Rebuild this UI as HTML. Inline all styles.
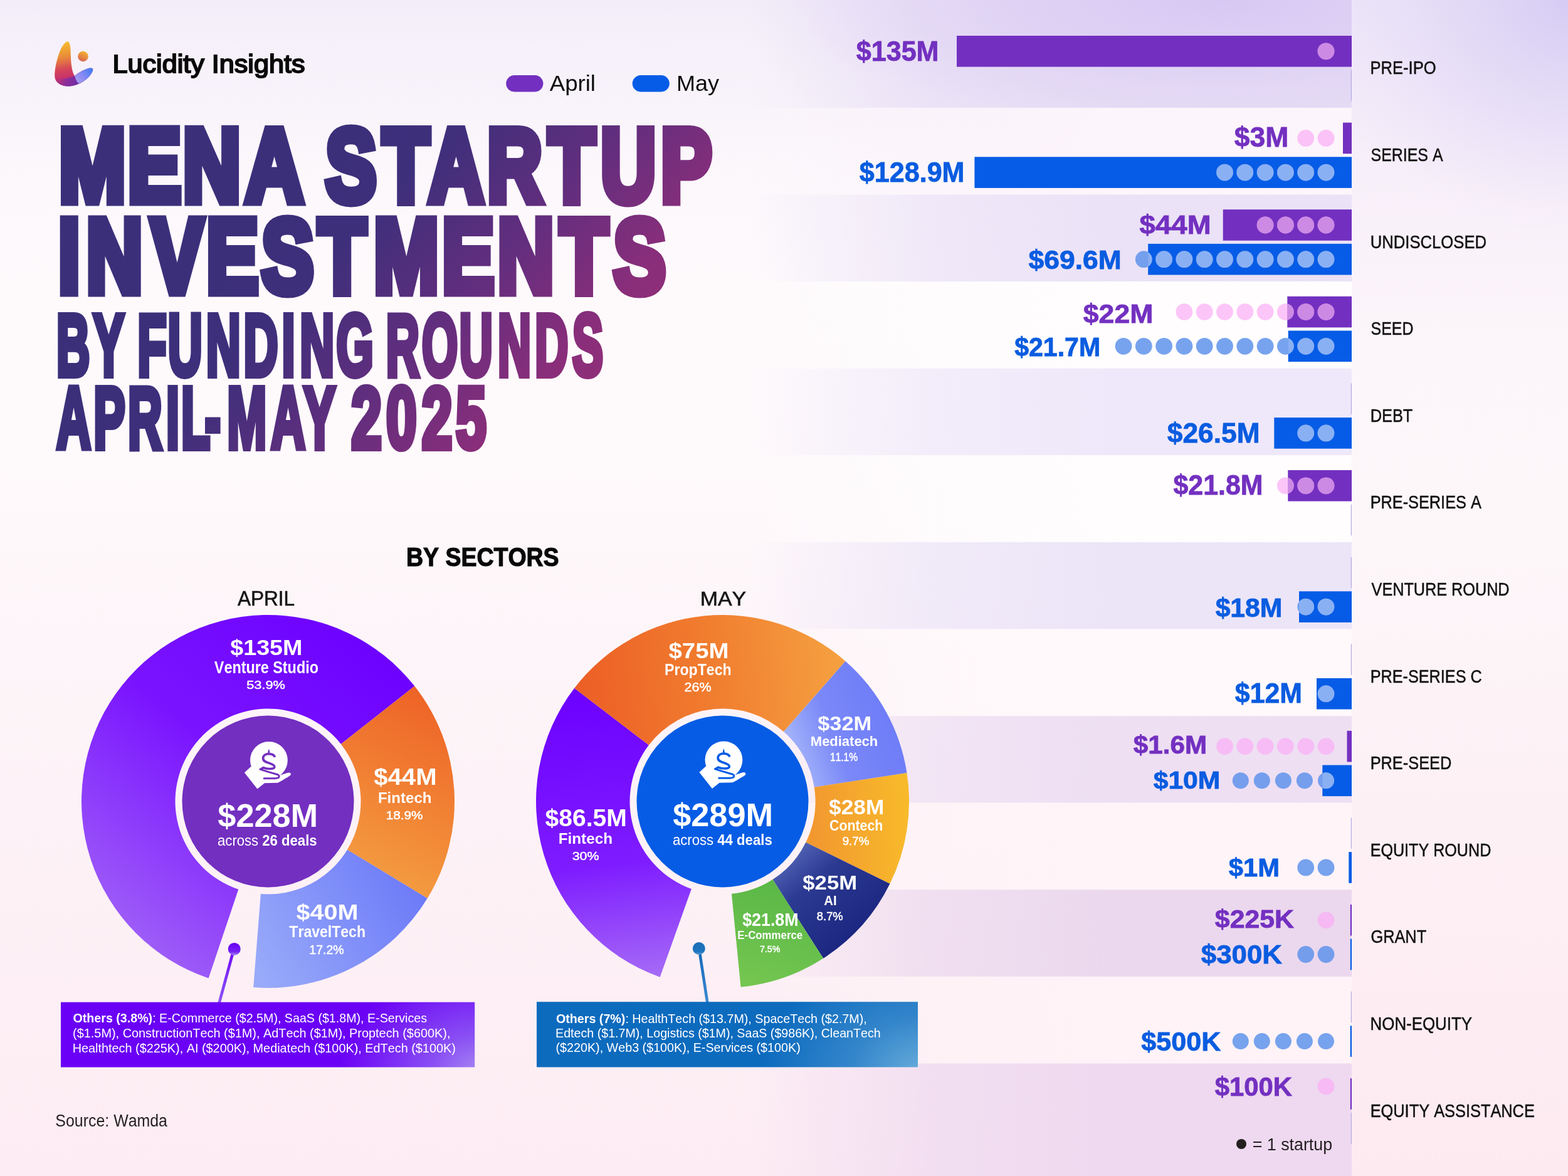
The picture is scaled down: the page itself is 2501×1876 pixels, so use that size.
<!DOCTYPE html><html><head><meta charset="utf-8"><title>MENA Startup Investments by Funding Rounds April-May 2025</title>
<style>html,body{margin:0;padding:0;background:#FBF4F9;}body{width:2501px;height:1876px;overflow:hidden;font-family:"Liberation Sans",Arial,sans-serif;}svg{display:block}</style></head><body><svg width="2501" height="1876" viewBox="0 0 2501 1876" font-family="Liberation Sans, Arial, sans-serif" style="font-kerning:none"><defs><linearGradient id="bg" gradientUnits="userSpaceOnUse" x1="0" y1="0" x2="0" y2="1876"><stop offset="0" stop-color="#F2EDF9"/><stop offset="0.06" stop-color="#F7F2FA"/><stop offset="0.14" stop-color="#FBF7FB"/><stop offset="0.25" stop-color="#FEFAFC"/><stop offset="0.4" stop-color="#FEF9FB"/><stop offset="0.55" stop-color="#FDF5F9"/><stop offset="0.75" stop-color="#FDF1F6"/><stop offset="1" stop-color="#FDECF3"/></linearGradient><radialGradient id="haze" gradientUnits="userSpaceOnUse" cx="1950" cy="0" r="900" gradientTransform="translate(1950 0) scale(0.85 0.4) translate(-1950 0)"><stop offset="0" stop-color="#D9C8F4" stop-opacity="0.85"/><stop offset="1" stop-color="#E9DDF6" stop-opacity="0"/></radialGradient><linearGradient id="rcol" gradientUnits="userSpaceOnUse" x1="0" y1="0" x2="0" y2="1876"><stop offset="0" stop-color="#EDE6F8"/><stop offset="0.07" stop-color="#F3EBF9"/><stop offset="0.16" stop-color="#F8F0F9"/><stop offset="0.3" stop-color="#FCF6FA"/><stop offset="0.45" stop-color="#FDF7FA"/><stop offset="0.7" stop-color="#FDF0F5"/><stop offset="1" stop-color="#FDEAF1"/></linearGradient><radialGradient id="rhaze" gradientUnits="userSpaceOnUse" cx="2501" cy="0" r="420" gradientTransform="translate(2501 0) scale(1 0.9) translate(-2501 0)"><stop offset="0" stop-color="#D6CCF4" stop-opacity="1"/><stop offset="0.5" stop-color="#DDD4F5" stop-opacity="0.55"/><stop offset="1" stop-color="#E6DEF7" stop-opacity="0"/></radialGradient><linearGradient id="band0" gradientUnits="userSpaceOnUse" x1="1195" y1="0" x2="2156" y2="0"><stop offset="0" stop-color="#E7DEF5" stop-opacity="0"/><stop offset="0.3" stop-color="#E7DEF5" stop-opacity="0.72"/><stop offset="0.6" stop-color="#E7DEF5" stop-opacity="1"/><stop offset="1" stop-color="#E7DEF5" stop-opacity="1"/></linearGradient><linearGradient id="band1" gradientUnits="userSpaceOnUse" x1="1195" y1="0" x2="2156" y2="0"><stop offset="0" stop-color="#FCF5FB" stop-opacity="0"/><stop offset="0.3" stop-color="#FCF5FB" stop-opacity="0.72"/><stop offset="0.6" stop-color="#FCF5FB" stop-opacity="1"/><stop offset="1" stop-color="#FCF5FB" stop-opacity="1"/></linearGradient><linearGradient id="band2" gradientUnits="userSpaceOnUse" x1="1195" y1="0" x2="2156" y2="0"><stop offset="0" stop-color="#EBE2F7" stop-opacity="0"/><stop offset="0.3" stop-color="#EBE2F7" stop-opacity="0.72"/><stop offset="0.6" stop-color="#EBE2F7" stop-opacity="1"/><stop offset="1" stop-color="#EBE2F7" stop-opacity="1"/></linearGradient><linearGradient id="band3" gradientUnits="userSpaceOnUse" x1="1195" y1="0" x2="2156" y2="0"><stop offset="0" stop-color="#FFFDFE" stop-opacity="0"/><stop offset="0.3" stop-color="#FFFDFE" stop-opacity="0.72"/><stop offset="0.6" stop-color="#FFFDFE" stop-opacity="1"/><stop offset="1" stop-color="#FFFDFE" stop-opacity="1"/></linearGradient><linearGradient id="band4" gradientUnits="userSpaceOnUse" x1="1195" y1="0" x2="2156" y2="0"><stop offset="0" stop-color="#EEE8FA" stop-opacity="0"/><stop offset="0.3" stop-color="#EEE8FA" stop-opacity="0.72"/><stop offset="0.6" stop-color="#EEE8FA" stop-opacity="1"/><stop offset="1" stop-color="#EEE8FA" stop-opacity="1"/></linearGradient><linearGradient id="band5" gradientUnits="userSpaceOnUse" x1="1195" y1="0" x2="2156" y2="0"><stop offset="0" stop-color="#FFFDFE" stop-opacity="0"/><stop offset="0.3" stop-color="#FFFDFE" stop-opacity="0.72"/><stop offset="0.6" stop-color="#FFFDFE" stop-opacity="1"/><stop offset="1" stop-color="#FFFDFE" stop-opacity="1"/></linearGradient><linearGradient id="band6" gradientUnits="userSpaceOnUse" x1="1195" y1="0" x2="2156" y2="0"><stop offset="0" stop-color="#ECE5F8" stop-opacity="0"/><stop offset="0.3" stop-color="#ECE5F8" stop-opacity="0.72"/><stop offset="0.6" stop-color="#ECE5F8" stop-opacity="1"/><stop offset="1" stop-color="#ECE5F8" stop-opacity="1"/></linearGradient><linearGradient id="band7" gradientUnits="userSpaceOnUse" x1="1195" y1="0" x2="2156" y2="0"><stop offset="0" stop-color="#FFF9FB" stop-opacity="0"/><stop offset="0.3" stop-color="#FFF9FB" stop-opacity="0.72"/><stop offset="0.6" stop-color="#FFF9FB" stop-opacity="1"/><stop offset="1" stop-color="#FFF9FB" stop-opacity="1"/></linearGradient><linearGradient id="band8" gradientUnits="userSpaceOnUse" x1="1195" y1="0" x2="2156" y2="0"><stop offset="0" stop-color="#EEDFF3" stop-opacity="0"/><stop offset="0.3" stop-color="#EEDFF3" stop-opacity="0.72"/><stop offset="0.6" stop-color="#EEDFF3" stop-opacity="1"/><stop offset="1" stop-color="#EEDFF3" stop-opacity="1"/></linearGradient><linearGradient id="band9" gradientUnits="userSpaceOnUse" x1="1195" y1="0" x2="2156" y2="0"><stop offset="0" stop-color="#FFF4F8" stop-opacity="0"/><stop offset="0.3" stop-color="#FFF4F8" stop-opacity="0.72"/><stop offset="0.6" stop-color="#FFF4F8" stop-opacity="1"/><stop offset="1" stop-color="#FFF4F8" stop-opacity="1"/></linearGradient><linearGradient id="band10" gradientUnits="userSpaceOnUse" x1="1195" y1="0" x2="2156" y2="0"><stop offset="0" stop-color="#EBD8EE" stop-opacity="0"/><stop offset="0.3" stop-color="#EBD8EE" stop-opacity="0.72"/><stop offset="0.6" stop-color="#EBD8EE" stop-opacity="1"/><stop offset="1" stop-color="#EBD8EE" stop-opacity="1"/></linearGradient><linearGradient id="band11" gradientUnits="userSpaceOnUse" x1="1195" y1="0" x2="2156" y2="0"><stop offset="0" stop-color="#FFF3F7" stop-opacity="0"/><stop offset="0.3" stop-color="#FFF3F7" stop-opacity="0.72"/><stop offset="0.6" stop-color="#FFF3F7" stop-opacity="1"/><stop offset="1" stop-color="#FFF3F7" stop-opacity="1"/></linearGradient><linearGradient id="band12" gradientUnits="userSpaceOnUse" x1="1195" y1="0" x2="2156" y2="0"><stop offset="0" stop-color="#EED9F0" stop-opacity="0"/><stop offset="0.3" stop-color="#EED9F0" stop-opacity="0.72"/><stop offset="0.6" stop-color="#EED9F0" stop-opacity="1"/><stop offset="1" stop-color="#EED9F0" stop-opacity="1"/></linearGradient><radialGradient id="b0haze" gradientUnits="userSpaceOnUse" cx="1950" cy="0" r="700" gradientTransform="translate(1950 0) scale(1 0.3) translate(-1950 0)"><stop offset="0" stop-color="#D3C3F3" stop-opacity="0.8"/><stop offset="1" stop-color="#D4C2F2" stop-opacity="0"/></radialGradient><clipPath id="clip0_0"><rect x="1526.0" y="57.0" width="630.0" height="49.6"/></clipPath><clipPath id="clip1_0"><rect x="2142.0" y="195.6" width="14.0" height="49.6"/></clipPath><clipPath id="clip1_1"><rect x="1554.4" y="250.3" width="601.6" height="49.6"/></clipPath><clipPath id="clip2_0"><rect x="1950.7" y="334.2" width="205.3" height="49.6"/></clipPath><clipPath id="clip2_1"><rect x="1831.2" y="388.9" width="324.8" height="49.6"/></clipPath><clipPath id="clip3_0"><rect x="2053.3" y="472.8" width="102.7" height="49.6"/></clipPath><clipPath id="clip3_1"><rect x="2054.7" y="527.5" width="101.3" height="49.6"/></clipPath><clipPath id="clip4_1"><rect x="2032.3" y="666.1" width="123.7" height="49.6"/></clipPath><clipPath id="clip5_0"><rect x="2054.3" y="750.0" width="101.7" height="49.6"/></clipPath><clipPath id="clip6_1"><rect x="2072.0" y="943.3" width="84.0" height="49.6"/></clipPath><clipPath id="clip7_1"><rect x="2100.0" y="1081.9" width="56.0" height="49.6"/></clipPath><clipPath id="clip8_0"><rect x="2148.5" y="1165.8" width="7.5" height="49.6"/></clipPath><clipPath id="clip8_1"><rect x="2109.3" y="1220.5" width="46.7" height="49.6"/></clipPath><clipPath id="clip9_1"><rect x="2151.3" y="1359.1" width="4.7" height="49.6"/></clipPath><clipPath id="clip10_0"><rect x="2153.8" y="1443.0" width="2.2" height="49.6"/></clipPath><clipPath id="clip10_1"><rect x="2153.8" y="1497.7" width="2.2" height="49.6"/></clipPath><clipPath id="clip11_1"><rect x="2153.7" y="1636.3" width="2.3" height="49.6"/></clipPath><clipPath id="clip12_0"><rect x="2153.8" y="1720.2" width="2.2" height="49.6"/></clipPath><linearGradient id="lgA" gradientUnits="userSpaceOnUse" x1="100" y1="66" x2="112" y2="137"><stop offset="0" stop-color="#F7C02C"/><stop offset="0.35" stop-color="#E98A3A"/><stop offset="0.62" stop-color="#D4445A"/><stop offset="0.8" stop-color="#C8336A"/><stop offset="1" stop-color="#7C2C9C"/></linearGradient><linearGradient id="lgB" gradientUnits="userSpaceOnUse" x1="148" y1="110" x2="118" y2="137"><stop offset="0" stop-color="#3F7BF6"/><stop offset="0.5" stop-color="#8A8AF2"/><stop offset="1" stop-color="#B4A8EE"/></linearGradient><linearGradient id="lgC" gradientUnits="userSpaceOnUse" x1="136" y1="82" x2="128" y2="98"><stop offset="0" stop-color="#F7B530"/><stop offset="1" stop-color="#D66052"/></linearGradient><linearGradient id="lgD" gradientUnits="userSpaceOnUse" x1="88" y1="124" x2="126" y2="136"><stop offset="0" stop-color="#C8336A" stop-opacity="0.2"/><stop offset="0.45" stop-color="#8E2E9C"/><stop offset="1" stop-color="#6C2CA2"/></linearGradient><linearGradient id="tgrad" gradientUnits="userSpaceOnUse" x1="560" y1="230" x2="1060" y2="700"><stop offset="0" stop-color="#3C2F7A"/><stop offset="0.15" stop-color="#3E2F7B"/><stop offset="0.45" stop-color="#642E7E"/><stop offset="0.7" stop-color="#8A2E7A"/><stop offset="1" stop-color="#9A2E77"/></linearGradient><linearGradient id="tg1" gradientUnits="userSpaceOnUse" x1="560" y1="230" x2="1060" y2="700" gradientTransform="scale(1.28953 1)"><stop offset="0" stop-color="#3C2F7A"/><stop offset="0.15" stop-color="#3E2F7B"/><stop offset="0.45" stop-color="#642E7E"/><stop offset="0.7" stop-color="#8A2E7A"/><stop offset="1" stop-color="#9A2E77"/></linearGradient><linearGradient id="tg2" gradientUnits="userSpaceOnUse" x1="560" y1="230" x2="1060" y2="700" gradientTransform="scale(1.35897 1)"><stop offset="0" stop-color="#3C2F7A"/><stop offset="0.15" stop-color="#3E2F7B"/><stop offset="0.45" stop-color="#642E7E"/><stop offset="0.7" stop-color="#8A2E7A"/><stop offset="1" stop-color="#9A2E77"/></linearGradient><linearGradient id="tg3" gradientUnits="userSpaceOnUse" x1="560" y1="230" x2="1060" y2="700" gradientTransform="scale(1.33896 1)"><stop offset="0" stop-color="#3C2F7A"/><stop offset="0.15" stop-color="#3E2F7B"/><stop offset="0.45" stop-color="#642E7E"/><stop offset="0.7" stop-color="#8A2E7A"/><stop offset="1" stop-color="#9A2E77"/></linearGradient><linearGradient id="tg4" gradientUnits="userSpaceOnUse" x1="560" y1="230" x2="1060" y2="700" gradientTransform="scale(1.89051 1)"><stop offset="0" stop-color="#3C2F7A"/><stop offset="0.15" stop-color="#3E2F7B"/><stop offset="0.45" stop-color="#642E7E"/><stop offset="0.7" stop-color="#8A2E7A"/><stop offset="1" stop-color="#9A2E77"/></linearGradient><linearGradient id="tg5" gradientUnits="userSpaceOnUse" x1="560" y1="230" x2="1060" y2="700" gradientTransform="scale(1.83378 1)"><stop offset="0" stop-color="#3C2F7A"/><stop offset="0.15" stop-color="#3E2F7B"/><stop offset="0.45" stop-color="#642E7E"/><stop offset="0.7" stop-color="#8A2E7A"/><stop offset="1" stop-color="#9A2E77"/></linearGradient><linearGradient id="tg6" gradientUnits="userSpaceOnUse" x1="560" y1="230" x2="1060" y2="700" gradientTransform="scale(1.90018 1)"><stop offset="0" stop-color="#3C2F7A"/><stop offset="0.15" stop-color="#3E2F7B"/><stop offset="0.45" stop-color="#642E7E"/><stop offset="0.7" stop-color="#8A2E7A"/><stop offset="1" stop-color="#9A2E77"/></linearGradient><linearGradient id="tg7" gradientUnits="userSpaceOnUse" x1="560" y1="230" x2="1060" y2="700" gradientTransform="scale(1.84188 1)"><stop offset="0" stop-color="#3C2F7A"/><stop offset="0.15" stop-color="#3E2F7B"/><stop offset="0.45" stop-color="#642E7E"/><stop offset="0.7" stop-color="#8A2E7A"/><stop offset="1" stop-color="#9A2E77"/></linearGradient><linearGradient id="tg8" gradientUnits="userSpaceOnUse" x1="560" y1="230" x2="1060" y2="700" gradientTransform="scale(1.58934 1)"><stop offset="0" stop-color="#3C2F7A"/><stop offset="0.15" stop-color="#3E2F7B"/><stop offset="0.45" stop-color="#642E7E"/><stop offset="0.7" stop-color="#8A2E7A"/><stop offset="1" stop-color="#9A2E77"/></linearGradient><linearGradient id="aVS" gradientUnits="userSpaceOnUse" x1="620" y1="1020" x2="190" y2="1560"><stop offset="0" stop-color="#6C00FF"/><stop offset="0.45" stop-color="#7A14FF"/><stop offset="1" stop-color="#A56CF6"/></linearGradient><linearGradient id="aFT" gradientUnits="userSpaceOnUse" x1="700" y1="1110" x2="560" y2="1410"><stop offset="0" stop-color="#EE6226"/><stop offset="1" stop-color="#F4A042"/></linearGradient><linearGradient id="aTT" gradientUnits="userSpaceOnUse" x1="690" y1="1420" x2="420" y2="1570"><stop offset="0" stop-color="#6B78F8"/><stop offset="1" stop-color="#98AAF9"/></linearGradient><linearGradient id="mFT" gradientUnits="userSpaceOnUse" x1="950" y1="1090" x2="1010" y2="1570"><stop offset="0" stop-color="#6C00FF"/><stop offset="0.6" stop-color="#7E1CFF"/><stop offset="1" stop-color="#A76EF6"/></linearGradient><linearGradient id="mPT" gradientUnits="userSpaceOnUse" x1="890" y1="1100" x2="1340" y2="1060"><stop offset="0" stop-color="#EC5A24"/><stop offset="0.5" stop-color="#F07A2E"/><stop offset="1" stop-color="#F5A040"/></linearGradient><linearGradient id="mMT" gradientUnits="userSpaceOnUse" x1="1430" y1="1150" x2="1270" y2="1210"><stop offset="0" stop-color="#6E7CF8"/><stop offset="0.6" stop-color="#7A88F8"/><stop offset="1" stop-color="#A2B2F9"/></linearGradient><linearGradient id="mCT" gradientUnits="userSpaceOnUse" x1="1445" y1="1290" x2="1295" y2="1300"><stop offset="0" stop-color="#F8BA2A"/><stop offset="1" stop-color="#F29830"/></linearGradient><linearGradient id="mAI" gradientUnits="userSpaceOnUse" x1="1370" y1="1490" x2="1250" y2="1350"><stop offset="0" stop-color="#1B2680"/><stop offset="0.6" stop-color="#2C3A92"/><stop offset="1" stop-color="#5A6CBC"/></linearGradient><linearGradient id="mEC" gradientUnits="userSpaceOnUse" x1="1240" y1="1390" x2="1190" y2="1570"><stop offset="0" stop-color="#58B646"/><stop offset="1" stop-color="#74C650"/></linearGradient><linearGradient id="pinA" gradientUnits="userSpaceOnUse" x1="0" y1="1505" x2="0" y2="1600"><stop offset="0" stop-color="#6A00F5"/><stop offset="1" stop-color="#8E56F6"/></linearGradient><linearGradient id="pinA2" gradientUnits="userSpaceOnUse" x1="0" y1="1504" x2="0" y2="1524"><stop offset="0" stop-color="#6A00F5"/><stop offset="0.7" stop-color="#7420F5"/><stop offset="1" stop-color="#A88CF6"/></linearGradient><linearGradient id="pinM" gradientUnits="userSpaceOnUse" x1="0" y1="1505" x2="0" y2="1600"><stop offset="0" stop-color="#0F62B8"/><stop offset="1" stop-color="#3B8AD0"/></linearGradient><linearGradient id="pinM2" gradientUnits="userSpaceOnUse" x1="0" y1="1503" x2="0" y2="1523"><stop offset="0" stop-color="#1A6EB8"/><stop offset="0.75" stop-color="#1E74BE"/><stop offset="1" stop-color="#5A9CD4"/></linearGradient><radialGradient id="boxA" gradientUnits="userSpaceOnUse" cx="770" cy="1712" r="230" gradientTransform="translate(770 1712) scale(1 0.75) translate(-770 -1712)"><stop offset="0" stop-color="#A98CF2"/><stop offset="0.35" stop-color="#8A50F4"/><stop offset="1" stop-color="#6A00F5"/></radialGradient><radialGradient id="boxM" gradientUnits="userSpaceOnUse" cx="1475" cy="1712" r="260" gradientTransform="translate(1475 1712) scale(1 0.75) translate(-1475 -1712)"><stop offset="0" stop-color="#6AAEDB"/><stop offset="0.45" stop-color="#3486CB"/><stop offset="1" stop-color="#0D6BBE"/></radialGradient></defs><rect x="0" y="0" width="2501" height="1876" fill="url(#bg)"/><rect x="0" y="0" width="2501" height="700" fill="url(#haze)"/><rect x="2156" y="0" width="345" height="1876" fill="url(#rcol)"/><rect x="2156" y="0" width="345" height="500" fill="url(#rhaze)"/><rect x="1195" y="0.0" width="961" height="171.9" fill="url(#band0)"/><rect x="1195" y="171.9" width="961" height="138.6" fill="url(#band1)"/><rect x="1195" y="310.5" width="961" height="138.6" fill="url(#band2)"/><rect x="1195" y="449.1" width="961" height="138.6" fill="url(#band3)"/><rect x="1195" y="587.7" width="961" height="138.6" fill="url(#band4)"/><rect x="1195" y="726.3" width="961" height="138.6" fill="url(#band5)"/><rect x="1195" y="864.9" width="961" height="138.6" fill="url(#band6)"/><rect x="1195" y="1003.5" width="961" height="138.6" fill="url(#band7)"/><rect x="1195" y="1142.1" width="961" height="138.6" fill="url(#band8)"/><rect x="1195" y="1280.7" width="961" height="138.6" fill="url(#band9)"/><rect x="1195" y="1419.3" width="961" height="138.6" fill="url(#band10)"/><rect x="1195" y="1557.9" width="961" height="138.6" fill="url(#band11)"/><rect x="1195" y="1696.5" width="961" height="179.5" fill="url(#band12)"/><rect x="1150" y="0" width="1006" height="172" fill="url(#b0haze)"/><rect x="1526.0" y="57.0" width="630.0" height="49.6" fill="#7330C0"/><circle cx="2115.0" cy="81.8" r="13.4" fill="rgba(251,173,245,0.7)"/><g clip-path="url(#clip0_0)"><circle cx="2115.0" cy="81.8" r="13.4" fill="#CC8AE4"/></g><text x="1365.82" y="97.20" font-size="44.77" font-weight="bold" fill="#7330C0" stroke="#7330C0" stroke-width="0.8" stroke-linejoin="miter" textLength="131.68" lengthAdjust="spacingAndGlyphs" >$135M</text><rect x="2154.8" y="111.7" width="1.2" height="49.6" fill="#B4ACE0"/><text x="2185.62" y="118.35" font-size="29.80" font-weight="normal" fill="#111" stroke="#111" stroke-width="0.5" stroke-linejoin="miter" textLength="104.89" lengthAdjust="spacingAndGlyphs" >PRE-IPO</text><rect x="2142.0" y="195.6" width="14.0" height="49.6" fill="#7330C0"/><circle cx="2115.0" cy="220.4" r="13.4" fill="rgba(251,173,245,0.7)"/><circle cx="2082.7" cy="220.4" r="13.4" fill="rgba(251,173,245,0.7)"/><g clip-path="url(#clip1_0)"><circle cx="2115.0" cy="220.4" r="13.4" fill="#CC8AE4"/><circle cx="2082.7" cy="220.4" r="13.4" fill="#CC8AE4"/></g><text x="1968.81" y="234.10" font-size="44.62" font-weight="bold" fill="#7330C0" stroke="#7330C0" stroke-width="0.8" stroke-linejoin="miter" textLength="86.36" lengthAdjust="spacingAndGlyphs" >$3M</text><rect x="1554.4" y="250.3" width="601.6" height="49.6" fill="#065CE6"/><circle cx="2115.0" cy="275.1" r="13.4" fill="rgba(95,147,235,0.85)"/><circle cx="2082.7" cy="275.1" r="13.4" fill="rgba(95,147,235,0.85)"/><circle cx="2050.4" cy="275.1" r="13.4" fill="rgba(95,147,235,0.85)"/><circle cx="2018.1" cy="275.1" r="13.4" fill="rgba(95,147,235,0.85)"/><circle cx="1985.8" cy="275.1" r="13.4" fill="rgba(95,147,235,0.85)"/><circle cx="1953.5" cy="275.1" r="13.4" fill="rgba(95,147,235,0.85)"/><g clip-path="url(#clip1_1)"><circle cx="2115.0" cy="275.1" r="13.4" fill="#8AB0F4"/><circle cx="2082.7" cy="275.1" r="13.4" fill="#8AB0F4"/><circle cx="2050.4" cy="275.1" r="13.4" fill="#8AB0F4"/><circle cx="2018.1" cy="275.1" r="13.4" fill="#8AB0F4"/><circle cx="1985.8" cy="275.1" r="13.4" fill="#8AB0F4"/><circle cx="1953.5" cy="275.1" r="13.4" fill="#8AB0F4"/></g><text x="1370.82" y="290.30" font-size="44.91" font-weight="bold" fill="#0A5CE0" stroke="#0A5CE0" stroke-width="0.8" stroke-linejoin="miter" textLength="167.68" lengthAdjust="spacingAndGlyphs" >$128.9M</text><text x="2186.58" y="256.95" font-size="29.80" font-weight="normal" fill="#111" stroke="#111" stroke-width="0.5" stroke-linejoin="miter" textLength="114.96" lengthAdjust="spacingAndGlyphs" >SERIES A</text><rect x="1950.7" y="334.2" width="205.3" height="49.6" fill="#7330C0"/><circle cx="2115.0" cy="359.0" r="13.4" fill="rgba(251,173,245,0.7)"/><circle cx="2082.7" cy="359.0" r="13.4" fill="rgba(251,173,245,0.7)"/><circle cx="2050.4" cy="359.0" r="13.4" fill="rgba(251,173,245,0.7)"/><circle cx="2018.1" cy="359.0" r="13.4" fill="rgba(251,173,245,0.7)"/><g clip-path="url(#clip2_0)"><circle cx="2115.0" cy="359.0" r="13.4" fill="#CC8AE4"/><circle cx="2082.7" cy="359.0" r="13.4" fill="#CC8AE4"/><circle cx="2050.4" cy="359.0" r="13.4" fill="#CC8AE4"/><circle cx="2018.1" cy="359.0" r="13.4" fill="#CC8AE4"/></g><text x="1817.64" y="373.00" font-size="41.72" font-weight="bold" fill="#7330C0" stroke="#7330C0" stroke-width="0.8" stroke-linejoin="miter" textLength="113.97" lengthAdjust="spacingAndGlyphs" >$44M</text><rect x="1831.2" y="388.9" width="324.8" height="49.6" fill="#065CE6"/><circle cx="2115.0" cy="413.7" r="13.4" fill="rgba(95,147,235,0.85)"/><circle cx="2082.7" cy="413.7" r="13.4" fill="rgba(95,147,235,0.85)"/><circle cx="2050.4" cy="413.7" r="13.4" fill="rgba(95,147,235,0.85)"/><circle cx="2018.1" cy="413.7" r="13.4" fill="rgba(95,147,235,0.85)"/><circle cx="1985.8" cy="413.7" r="13.4" fill="rgba(95,147,235,0.85)"/><circle cx="1953.5" cy="413.7" r="13.4" fill="rgba(95,147,235,0.85)"/><circle cx="1921.2" cy="413.7" r="13.4" fill="rgba(95,147,235,0.85)"/><circle cx="1888.9" cy="413.7" r="13.4" fill="rgba(95,147,235,0.85)"/><circle cx="1856.6" cy="413.7" r="13.4" fill="rgba(95,147,235,0.85)"/><circle cx="1824.3" cy="413.7" r="13.4" fill="rgba(95,147,235,0.85)"/><g clip-path="url(#clip2_1)"><circle cx="2115.0" cy="413.7" r="13.4" fill="#8AB0F4"/><circle cx="2082.7" cy="413.7" r="13.4" fill="#8AB0F4"/><circle cx="2050.4" cy="413.7" r="13.4" fill="#8AB0F4"/><circle cx="2018.1" cy="413.7" r="13.4" fill="#8AB0F4"/><circle cx="1985.8" cy="413.7" r="13.4" fill="#8AB0F4"/><circle cx="1953.5" cy="413.7" r="13.4" fill="#8AB0F4"/><circle cx="1921.2" cy="413.7" r="13.4" fill="#8AB0F4"/><circle cx="1888.9" cy="413.7" r="13.4" fill="#8AB0F4"/><circle cx="1856.6" cy="413.7" r="13.4" fill="#8AB0F4"/><circle cx="1824.3" cy="413.7" r="13.4" fill="#8AB0F4"/></g><text x="1640.53" y="428.90" font-size="42.59" font-weight="bold" fill="#0A5CE0" stroke="#0A5CE0" stroke-width="0.8" stroke-linejoin="miter" textLength="148.33" lengthAdjust="spacingAndGlyphs" >$69.6M</text><text x="2185.74" y="395.55" font-size="29.80" font-weight="normal" fill="#111" stroke="#111" stroke-width="0.5" stroke-linejoin="miter" textLength="185.28" lengthAdjust="spacingAndGlyphs" >UNDISCLOSED</text><rect x="2053.3" y="472.8" width="102.7" height="49.6" fill="#7330C0"/><circle cx="2115.0" cy="497.6" r="13.4" fill="rgba(251,173,245,0.7)"/><circle cx="2082.7" cy="497.6" r="13.4" fill="rgba(251,173,245,0.7)"/><circle cx="2050.4" cy="497.6" r="13.4" fill="rgba(251,173,245,0.7)"/><circle cx="2018.1" cy="497.6" r="13.4" fill="rgba(251,173,245,0.7)"/><circle cx="1985.8" cy="497.6" r="13.4" fill="rgba(251,173,245,0.7)"/><circle cx="1953.5" cy="497.6" r="13.4" fill="rgba(251,173,245,0.7)"/><circle cx="1921.2" cy="497.6" r="13.4" fill="rgba(251,173,245,0.7)"/><circle cx="1888.9" cy="497.6" r="13.4" fill="rgba(251,173,245,0.7)"/><g clip-path="url(#clip3_0)"><circle cx="2115.0" cy="497.6" r="13.4" fill="#CC8AE4"/><circle cx="2082.7" cy="497.6" r="13.4" fill="#CC8AE4"/><circle cx="2050.4" cy="497.6" r="13.4" fill="#CC8AE4"/><circle cx="2018.1" cy="497.6" r="13.4" fill="#CC8AE4"/><circle cx="1985.8" cy="497.6" r="13.4" fill="#CC8AE4"/><circle cx="1953.5" cy="497.6" r="13.4" fill="#CC8AE4"/><circle cx="1921.2" cy="497.6" r="13.4" fill="#CC8AE4"/><circle cx="1888.9" cy="497.6" r="13.4" fill="#CC8AE4"/></g><text x="1727.84" y="515.40" font-size="42.15" font-weight="bold" fill="#7330C0" stroke="#7330C0" stroke-width="0.8" stroke-linejoin="miter" textLength="111.52" lengthAdjust="spacingAndGlyphs" >$22M</text><rect x="2054.7" y="527.5" width="101.3" height="49.6" fill="#065CE6"/><circle cx="2115.0" cy="552.3" r="13.4" fill="rgba(95,147,235,0.85)"/><circle cx="2082.7" cy="552.3" r="13.4" fill="rgba(95,147,235,0.85)"/><circle cx="2050.4" cy="552.3" r="13.4" fill="rgba(95,147,235,0.85)"/><circle cx="2018.1" cy="552.3" r="13.4" fill="rgba(95,147,235,0.85)"/><circle cx="1985.8" cy="552.3" r="13.4" fill="rgba(95,147,235,0.85)"/><circle cx="1953.5" cy="552.3" r="13.4" fill="rgba(95,147,235,0.85)"/><circle cx="1921.2" cy="552.3" r="13.4" fill="rgba(95,147,235,0.85)"/><circle cx="1888.9" cy="552.3" r="13.4" fill="rgba(95,147,235,0.85)"/><circle cx="1856.6" cy="552.3" r="13.4" fill="rgba(95,147,235,0.85)"/><circle cx="1824.3" cy="552.3" r="13.4" fill="rgba(95,147,235,0.85)"/><circle cx="1792.0" cy="552.3" r="13.4" fill="rgba(95,147,235,0.85)"/><g clip-path="url(#clip3_1)"><circle cx="2115.0" cy="552.3" r="13.4" fill="#8AB0F4"/><circle cx="2082.7" cy="552.3" r="13.4" fill="#8AB0F4"/><circle cx="2050.4" cy="552.3" r="13.4" fill="#8AB0F4"/><circle cx="2018.1" cy="552.3" r="13.4" fill="#8AB0F4"/><circle cx="1985.8" cy="552.3" r="13.4" fill="#8AB0F4"/><circle cx="1953.5" cy="552.3" r="13.4" fill="#8AB0F4"/><circle cx="1921.2" cy="552.3" r="13.4" fill="#8AB0F4"/><circle cx="1888.9" cy="552.3" r="13.4" fill="#8AB0F4"/><circle cx="1856.6" cy="552.3" r="13.4" fill="#8AB0F4"/><circle cx="1824.3" cy="552.3" r="13.4" fill="#8AB0F4"/><circle cx="1792.0" cy="552.3" r="13.4" fill="#8AB0F4"/></g><text x="1618.25" y="568.30" font-size="41.72" font-weight="bold" fill="#0A5CE0" stroke="#0A5CE0" stroke-width="0.8" stroke-linejoin="miter" textLength="136.80" lengthAdjust="spacingAndGlyphs" >$21.7M</text><text x="2186.58" y="534.15" font-size="29.80" font-weight="normal" fill="#111" stroke="#111" stroke-width="0.5" stroke-linejoin="miter" textLength="67.80" lengthAdjust="spacingAndGlyphs" >SEED</text><rect x="2154.8" y="611.4" width="1.2" height="49.6" fill="#B4ACE0"/><rect x="2032.3" y="666.1" width="123.7" height="49.6" fill="#065CE6"/><circle cx="2115.0" cy="690.9" r="13.4" fill="rgba(95,147,235,0.85)"/><circle cx="2082.7" cy="690.9" r="13.4" fill="rgba(95,147,235,0.85)"/><g clip-path="url(#clip4_1)"><circle cx="2115.0" cy="690.9" r="13.4" fill="#8AB0F4"/><circle cx="2082.7" cy="690.9" r="13.4" fill="#8AB0F4"/></g><text x="1861.81" y="705.60" font-size="44.77" font-weight="bold" fill="#0A5CE0" stroke="#0A5CE0" stroke-width="0.8" stroke-linejoin="miter" textLength="147.76" lengthAdjust="spacingAndGlyphs" >$26.5M</text><text x="2185.63" y="672.75" font-size="29.80" font-weight="normal" fill="#111" stroke="#111" stroke-width="0.5" stroke-linejoin="miter" textLength="67.74" lengthAdjust="spacingAndGlyphs" >DEBT</text><rect x="2054.3" y="750.0" width="101.7" height="49.6" fill="#7330C0"/><circle cx="2115.0" cy="774.8" r="13.4" fill="rgba(251,173,245,0.7)"/><circle cx="2082.7" cy="774.8" r="13.4" fill="rgba(251,173,245,0.7)"/><circle cx="2050.4" cy="774.8" r="13.4" fill="rgba(251,173,245,0.7)"/><g clip-path="url(#clip5_0)"><circle cx="2115.0" cy="774.8" r="13.4" fill="#CC8AE4"/><circle cx="2082.7" cy="774.8" r="13.4" fill="#CC8AE4"/><circle cx="2050.4" cy="774.8" r="13.4" fill="#CC8AE4"/></g><text x="1871.53" y="789.40" font-size="43.61" font-weight="bold" fill="#7330C0" stroke="#7330C0" stroke-width="0.8" stroke-linejoin="miter" textLength="142.95" lengthAdjust="spacingAndGlyphs" >$21.8M</text><rect x="2154.8" y="804.7" width="1.2" height="49.6" fill="#B4ACE0"/><text x="2185.64" y="811.35" font-size="29.80" font-weight="normal" fill="#111" stroke="#111" stroke-width="0.5" stroke-linejoin="miter" textLength="177.20" lengthAdjust="spacingAndGlyphs" >PRE-SERIES A</text><rect x="2154.8" y="888.6" width="1.2" height="49.6" fill="#B4ACE0"/><rect x="2072.0" y="943.3" width="84.0" height="49.6" fill="#065CE6"/><circle cx="2115.0" cy="968.1" r="13.4" fill="rgba(95,147,235,0.85)"/><circle cx="2082.7" cy="968.1" r="13.4" fill="rgba(95,147,235,0.85)"/><g clip-path="url(#clip6_1)"><circle cx="2115.0" cy="968.1" r="13.4" fill="#8AB0F4"/><circle cx="2082.7" cy="968.1" r="13.4" fill="#8AB0F4"/></g><text x="1938.63" y="984.10" font-size="43.17" font-weight="bold" fill="#0A5CE0" stroke="#0A5CE0" stroke-width="0.8" stroke-linejoin="miter" textLength="106.83" lengthAdjust="spacingAndGlyphs" >$18M</text><text x="2187.60" y="949.95" font-size="29.80" font-weight="normal" fill="#111" stroke="#111" stroke-width="0.5" stroke-linejoin="miter" textLength="219.99" lengthAdjust="spacingAndGlyphs" >VENTURE ROUND</text><rect x="2154.8" y="1027.2" width="1.2" height="49.6" fill="#B4ACE0"/><rect x="2100.0" y="1081.9" width="56.0" height="49.6" fill="#065CE6"/><circle cx="2115.0" cy="1106.7" r="13.4" fill="rgba(95,147,235,0.85)"/><g clip-path="url(#clip7_1)"><circle cx="2115.0" cy="1106.7" r="13.4" fill="#8AB0F4"/></g><text x="1969.82" y="1121.20" font-size="44.04" font-weight="bold" fill="#0A5CE0" stroke="#0A5CE0" stroke-width="0.8" stroke-linejoin="miter" textLength="107.15" lengthAdjust="spacingAndGlyphs" >$12M</text><text x="2185.64" y="1088.55" font-size="29.80" font-weight="normal" fill="#111" stroke="#111" stroke-width="0.5" stroke-linejoin="miter" textLength="178.11" lengthAdjust="spacingAndGlyphs" >PRE-SERIES C</text><rect x="2148.5" y="1165.8" width="7.5" height="49.6" fill="#7330C0"/><circle cx="2115.0" cy="1190.6" r="13.4" fill="rgba(251,173,245,0.7)"/><circle cx="2082.7" cy="1190.6" r="13.4" fill="rgba(251,173,245,0.7)"/><circle cx="2050.4" cy="1190.6" r="13.4" fill="rgba(251,173,245,0.7)"/><circle cx="2018.1" cy="1190.6" r="13.4" fill="rgba(251,173,245,0.7)"/><circle cx="1985.8" cy="1190.6" r="13.4" fill="rgba(251,173,245,0.7)"/><circle cx="1953.5" cy="1190.6" r="13.4" fill="rgba(251,173,245,0.7)"/><g clip-path="url(#clip8_0)"><circle cx="2115.0" cy="1190.6" r="13.4" fill="#CC8AE4"/><circle cx="2082.7" cy="1190.6" r="13.4" fill="#CC8AE4"/><circle cx="2050.4" cy="1190.6" r="13.4" fill="#CC8AE4"/><circle cx="2018.1" cy="1190.6" r="13.4" fill="#CC8AE4"/><circle cx="1985.8" cy="1190.6" r="13.4" fill="#CC8AE4"/><circle cx="1953.5" cy="1190.6" r="13.4" fill="#CC8AE4"/></g><text x="1807.85" y="1201.60" font-size="41.43" font-weight="bold" fill="#7330C0" stroke="#7330C0" stroke-width="0.8" stroke-linejoin="miter" textLength="117.16" lengthAdjust="spacingAndGlyphs" >$1.6M</text><rect x="2109.3" y="1220.5" width="46.7" height="49.6" fill="#065CE6"/><circle cx="2115.0" cy="1245.3" r="13.0" fill="rgba(95,147,235,0.85)"/><circle cx="2080.9" cy="1245.3" r="13.0" fill="rgba(95,147,235,0.85)"/><circle cx="2046.9" cy="1245.3" r="13.0" fill="rgba(95,147,235,0.85)"/><circle cx="2012.8" cy="1245.3" r="13.0" fill="rgba(95,147,235,0.85)"/><circle cx="1978.8" cy="1245.3" r="13.0" fill="rgba(95,147,235,0.85)"/><g clip-path="url(#clip8_1)"><circle cx="2115.0" cy="1245.3" r="13.0" fill="#8AB0F4"/><circle cx="2080.9" cy="1245.3" r="13.0" fill="#8AB0F4"/><circle cx="2046.9" cy="1245.3" r="13.0" fill="#8AB0F4"/><circle cx="2012.8" cy="1245.3" r="13.0" fill="#8AB0F4"/><circle cx="1978.8" cy="1245.3" r="13.0" fill="#8AB0F4"/></g><text x="1839.67" y="1257.60" font-size="39.68" font-weight="bold" fill="#0A5CE0" stroke="#0A5CE0" stroke-width="0.8" stroke-linejoin="miter" textLength="106.76" lengthAdjust="spacingAndGlyphs" >$10M</text><text x="2185.63" y="1227.15" font-size="29.80" font-weight="normal" fill="#111" stroke="#111" stroke-width="0.5" stroke-linejoin="miter" textLength="129.67" lengthAdjust="spacingAndGlyphs" >PRE-SEED</text><rect x="2154.8" y="1304.4" width="1.2" height="49.6" fill="#B4ACE0"/><rect x="2151.3" y="1359.1" width="4.7" height="49.6" fill="#065CE6"/><circle cx="2115.0" cy="1383.9" r="13.4" fill="rgba(95,147,235,0.85)"/><circle cx="2082.7" cy="1383.9" r="13.4" fill="rgba(95,147,235,0.85)"/><g clip-path="url(#clip9_1)"><circle cx="2115.0" cy="1383.9" r="13.4" fill="#8AB0F4"/><circle cx="2082.7" cy="1383.9" r="13.4" fill="#8AB0F4"/></g><text x="1959.85" y="1398.10" font-size="41.28" font-weight="bold" fill="#0A5CE0" stroke="#0A5CE0" stroke-width="0.8" stroke-linejoin="miter" textLength="81.13" lengthAdjust="spacingAndGlyphs" >$1M</text><text x="2185.65" y="1365.75" font-size="29.80" font-weight="normal" fill="#111" stroke="#111" stroke-width="0.5" stroke-linejoin="miter" textLength="192.64" lengthAdjust="spacingAndGlyphs" >EQUITY ROUND</text><rect x="2153.8" y="1443.0" width="2.2" height="49.6" fill="#7330C0"/><circle cx="2115.0" cy="1467.8" r="13.4" fill="rgba(251,173,245,0.7)"/><g clip-path="url(#clip10_0)"><circle cx="2115.0" cy="1467.8" r="13.4" fill="#CC8AE4"/></g><text x="1937.85" y="1480.40" font-size="41.28" font-weight="bold" fill="#7330C0" stroke="#7330C0" stroke-width="0.8" stroke-linejoin="miter" textLength="126.13" lengthAdjust="spacingAndGlyphs" >$225K</text><rect x="2153.8" y="1497.7" width="2.2" height="49.6" fill="#065CE6"/><circle cx="2115.0" cy="1522.5" r="13.4" fill="rgba(95,147,235,0.85)"/><circle cx="2082.7" cy="1522.5" r="13.4" fill="rgba(95,147,235,0.85)"/><g clip-path="url(#clip10_1)"><circle cx="2115.0" cy="1522.5" r="13.4" fill="#8AB0F4"/><circle cx="2082.7" cy="1522.5" r="13.4" fill="#8AB0F4"/></g><text x="1915.84" y="1537.10" font-size="42.01" font-weight="bold" fill="#0A5CE0" stroke="#0A5CE0" stroke-width="0.8" stroke-linejoin="miter" textLength="129.15" lengthAdjust="spacingAndGlyphs" >$300K</text><text x="2186.44" y="1504.35" font-size="29.80" font-weight="normal" fill="#111" stroke="#111" stroke-width="0.5" stroke-linejoin="miter" textLength="88.73" lengthAdjust="spacingAndGlyphs" >GRANT</text><rect x="2154.8" y="1581.6" width="1.2" height="49.6" fill="#B4ACE0"/><rect x="2153.7" y="1636.3" width="2.3" height="49.6" fill="#065CE6"/><circle cx="2115.0" cy="1661.1" r="13.0" fill="rgba(95,147,235,0.85)"/><circle cx="2080.9" cy="1661.1" r="13.0" fill="rgba(95,147,235,0.85)"/><circle cx="2046.9" cy="1661.1" r="13.0" fill="rgba(95,147,235,0.85)"/><circle cx="2012.8" cy="1661.1" r="13.0" fill="rgba(95,147,235,0.85)"/><circle cx="1978.8" cy="1661.1" r="13.0" fill="rgba(95,147,235,0.85)"/><g clip-path="url(#clip11_1)"><circle cx="2115.0" cy="1661.1" r="13.0" fill="#8AB0F4"/><circle cx="2080.9" cy="1661.1" r="13.0" fill="#8AB0F4"/><circle cx="2046.9" cy="1661.1" r="13.0" fill="#8AB0F4"/><circle cx="2012.8" cy="1661.1" r="13.0" fill="#8AB0F4"/><circle cx="1978.8" cy="1661.1" r="13.0" fill="#8AB0F4"/></g><text x="1820.34" y="1676.10" font-size="42.73" font-weight="bold" fill="#0A5CE0" stroke="#0A5CE0" stroke-width="0.8" stroke-linejoin="miter" textLength="126.96" lengthAdjust="spacingAndGlyphs" >$500K</text><text x="2185.60" y="1642.95" font-size="29.80" font-weight="normal" fill="#111" stroke="#111" stroke-width="0.5" stroke-linejoin="miter" textLength="162.36" lengthAdjust="spacingAndGlyphs" >NON-EQUITY</text><rect x="2153.8" y="1720.2" width="2.2" height="49.6" fill="#7330C0"/><circle cx="2115.0" cy="1733.1" r="13.4" fill="rgba(251,173,245,0.7)"/><g clip-path="url(#clip12_0)"><circle cx="2115.0" cy="1733.1" r="13.4" fill="#CC8AE4"/></g><text x="1937.74" y="1748.10" font-size="42.73" font-weight="bold" fill="#7330C0" stroke="#7330C0" stroke-width="0.8" stroke-linejoin="miter" textLength="123.36" lengthAdjust="spacingAndGlyphs" >$100K</text><rect x="2154.8" y="1774.9" width="1.2" height="49.6" fill="#B4ACE0"/><text x="2185.63" y="1781.55" font-size="29.80" font-weight="normal" fill="#111" stroke="#111" stroke-width="0.5" stroke-linejoin="miter" textLength="262.25" lengthAdjust="spacingAndGlyphs" >EQUITY ASSISTANCE</text><circle cx="1980" cy="1825" r="8" fill="#231F20"/><text x="1997.69" y="1835.00" font-size="27.62" font-weight="normal" fill="#231F20" textLength="127.44" lengthAdjust="spacingAndGlyphs" >= 1 startup</text><path d="M108.5,66 C104,66 98,74 94,86 C89,100 86.5,115 87.5,124 C89,133 99,138 111,137.5 C124,137 137,129 144,120 C149,113 150,109 145,108.5 C139,108 126,115 119,121 C115.5,116 113.5,105 113,92 C112.5,80 113,70 108.5,66 Z" fill="url(#lgA)"/><path d="M119,121 C126,115 139,108 145,108.5 C150,109 149,113 144,120 C139,127 131,132 124,133.5 C120,130 119.5,126 119,121 Z" fill="url(#lgB)"/><path d="M87.8,123.5 C96,127 108,126 119,121 C120.5,126 122,130 125.5,133.2 C119,136.4 113,137.6 108,137.6 C98,137.6 90.5,133.5 87.8,123.5 Z" fill="url(#lgD)"/><circle cx="132.5" cy="90" r="8.3" fill="url(#lgC)"/><text x="179.50" y="116.00" font-size="41.43" font-weight="normal" fill="#0A0A0A" stroke="#0A0A0A" stroke-width="2.0" stroke-linejoin="miter" textLength="307.02" lengthAdjust="spacingAndGlyphs" >Lucidity Insights</text><rect x="807.2" y="120.1" width="59.2" height="26.3" rx="13.15" fill="#7330C0"/><text x="876.73" y="145.00" font-size="34.59" font-weight="normal" fill="#0C0C0C" textLength="73.22" lengthAdjust="spacingAndGlyphs" >April</text><rect x="1008.7" y="120.1" width="59.1" height="26.3" rx="13.15" fill="#065CE6"/><text x="1079.05" y="145.00" font-size="34.59" font-weight="normal" fill="#0C0C0C" textLength="68.02" lengthAdjust="spacingAndGlyphs" >May</text><text transform="scale(0.77548 1)" x="121.67 262.77 376.36 504.88" y="320.70" font-size="164.54" font-weight="bold" fill="url(#tg1)" stroke="url(#tg1)" stroke-width="15" stroke-linejoin="miter" stroke-miterlimit="2.2">MENA</text><text transform="scale(0.73585 1)" x="706.04 829.64 929.29 1056.42 1189.15 1302.56 1432.81" y="320.70" font-size="164.54" font-weight="bold" fill="url(#tg2)" stroke="url(#tg2)" stroke-width="15" stroke-linejoin="miter" stroke-miterlimit="2.2">STARTUP</text><text transform="scale(0.74685 1)" x="124.45 184.29 322.60 440.86 558.71 679.91 798.46 944.24 1062.72 1196.28 1310.47" y="465.90" font-size="166.28" font-weight="bold" fill="url(#tg3)" stroke="url(#tg3)" stroke-width="15" stroke-linejoin="miter" stroke-miterlimit="2.2">INVESTMENTS</text><text transform="scale(0.52896 1)" x="170.29 281.16" y="599.00" font-size="139.68" font-weight="bold" fill="url(#tg4)" stroke="url(#tg4)" stroke-width="10" stroke-linejoin="miter" stroke-miterlimit="2.2">BY</text><text transform="scale(0.54532 1)" x="401.84 491.06 603.07 712.33 824.50 877.12 983.78" y="599.00" font-size="139.68" font-weight="bold" fill="url(#tg5)" stroke="url(#tg5)" stroke-width="10" stroke-linejoin="miter" stroke-miterlimit="2.2">FUNDING</text><text transform="scale(0.52626 1)" x="1170.14 1278.82 1392.35 1508.98 1621.60 1734.89" y="599.00" font-size="139.68" font-weight="bold" fill="url(#tg6)" stroke="url(#tg6)" stroke-width="10" stroke-linejoin="miter" stroke-miterlimit="2.2">ROUNDS</text><text transform="scale(0.54292 1)" x="166.34 274.72 375.65 488.28 532.48 601.93 667.24 796.07 892.39" y="714.80" font-size="139.25" font-weight="bold" fill="url(#tg7)" stroke="url(#tg7)" stroke-width="10" stroke-linejoin="miter" stroke-miterlimit="2.2">APRIL-MAY</text><text transform="scale(0.62919 1)" x="890.54 979.19 1069.42 1155.30" y="714.80" font-size="139.25" font-weight="bold" fill="url(#tg8)" stroke="url(#tg8)" stroke-width="10" stroke-linejoin="miter" stroke-miterlimit="2.2">2025</text><text x="648.03" y="903.20" font-size="42.01" font-weight="bold" fill="#080808" stroke="#080808" stroke-width="1.2" stroke-linejoin="miter" textLength="243.60" lengthAdjust="spacingAndGlyphs" >BY SECTORS</text><text x="378.93" y="965.70" font-size="32.56" font-weight="normal" fill="#161616" stroke="#161616" stroke-width="0.6" stroke-linejoin="miter" textLength="91.23" lengthAdjust="spacingAndGlyphs" >APRIL</text><text x="1116.84" y="965.70" font-size="31.98" font-weight="normal" fill="#161616" stroke="#161616" stroke-width="0.6" stroke-linejoin="miter" textLength="73.39" lengthAdjust="spacingAndGlyphs" >MAY</text><path d="M332.61,1560.46 A297.5,297.5 0 1 1 661.29,1094.52 L543.81,1186.98 A148,148 0 1 0 380.29,1418.77 Z" fill="url(#aVS)"/><path d="M661.29,1094.52 A297.5,297.5 0 0 1 681.70,1433.06 L553.96,1355.39 A148,148 0 0 0 543.81,1186.98 Z" fill="url(#aFT)"/><path d="M681.70,1433.06 A297.5,297.5 0 0 1 404.16,1575.08 L415.89,1426.04 A148,148 0 0 0 553.96,1355.39 Z" fill="url(#aTT)"/><circle cx="427.5" cy="1278.5" r="137" fill="#732FC0"/><path d="M1052.70,1558.76 A297.5,297.5 0 0 1 916.16,1097.81 L1034.93,1188.61 A148,148 0 0 0 1102.85,1417.92 Z" fill="url(#mFT)"/><path d="M916.16,1097.81 A297.5,297.5 0 0 1 1348.46,1054.66 L1249.99,1167.14 A148,148 0 0 0 1034.93,1188.61 Z" fill="url(#mPT)"/><path d="M1348.46,1054.66 A297.5,297.5 0 0 1 1446.50,1232.99 L1298.76,1255.86 A148,148 0 0 0 1249.99,1167.14 Z" fill="url(#mMT)"/><path d="M1446.50,1232.99 A297.5,297.5 0 0 1 1419.43,1409.85 L1285.29,1343.84 A148,148 0 0 0 1298.76,1255.86 Z" fill="url(#mCT)"/><path d="M1419.43,1409.85 A297.5,297.5 0 0 1 1313.22,1528.85 L1232.46,1403.04 A148,148 0 0 0 1285.29,1343.84 Z" fill="url(#mAI)"/><path d="M1313.22,1528.85 A297.5,297.5 0 0 1 1181.53,1574.58 L1166.94,1425.79 A148,148 0 0 0 1232.46,1403.04 Z" fill="url(#mEC)"/><circle cx="1152.5" cy="1278.5" r="137" fill="#065CE4"/><g transform="translate(370,1160)"><circle cx="58.9" cy="52.8" r="29.9" fill="#fff"/><path d="M19.9,72.6 L30.5,62.7 L42,68 L76,77 C82,75 88,72.6 91,72.4 C94,72.4 94.8,75.6 92.6,77.2 C88,80.5 80,85 73,88.8 L52,89.2 L40.4,98.5 Z" fill="#fff"/><path d="M68.6,47.8 C67.2,44.6 63.6,42.6 59,42.6 C53.5,42.6 49.6,45.5 49.6,49.8 C49.6,54 53.5,55.6 59,57.3 C64.5,59 67.8,60.5 67.8,63.2 C67.8,65.6 64.5,66.5 60,66.5 C55.5,66.5 52.5,65.8 50.2,64.6 L45.6,67.4" fill="none" stroke="#732FC0" stroke-width="3.7" stroke-linejoin="round"/><path d="M57.1,43 L57.5,38.4 L58.8,34.6 L60.1,38.4 L60.5,43 Z" fill="#732FC0"/><path d="M44.9,67.2 C52,69.8 64,73.2 73.2,75.8 C75.8,76.7 75.8,79.8 73.6,80.8 C72.5,81.4 71,81.7 68.5,81.7 L51.2,81.7" fill="none" stroke="#732FC0" stroke-width="3.0" stroke-linecap="round"/></g><g transform="translate(1095.5,1159.5)"><circle cx="58.9" cy="52.8" r="29.9" fill="#fff"/><path d="M19.9,72.6 L30.5,62.7 L42,68 L76,77 C82,75 88,72.6 91,72.4 C94,72.4 94.8,75.6 92.6,77.2 C88,80.5 80,85 73,88.8 L52,89.2 L40.4,98.5 Z" fill="#fff"/><path d="M68.6,47.8 C67.2,44.6 63.6,42.6 59,42.6 C53.5,42.6 49.6,45.5 49.6,49.8 C49.6,54 53.5,55.6 59,57.3 C64.5,59 67.8,60.5 67.8,63.2 C67.8,65.6 64.5,66.5 60,66.5 C55.5,66.5 52.5,65.8 50.2,64.6 L45.6,67.4" fill="none" stroke="#065CE4" stroke-width="3.7" stroke-linejoin="round"/><path d="M57.1,43 L57.5,38.4 L58.8,34.6 L60.1,38.4 L60.5,43 Z" fill="#065CE4"/><path d="M44.9,67.2 C52,69.8 64,73.2 73.2,75.8 C75.8,76.7 75.8,79.8 73.6,80.8 C72.5,81.4 71,81.7 68.5,81.7 L51.2,81.7" fill="none" stroke="#065CE4" stroke-width="3.0" stroke-linecap="round"/></g><text x="367.20" y="1044.80" font-size="34.59" font-weight="bold" fill="#FFFFFF" textLength="115.32" lengthAdjust="spacingAndGlyphs" >$135M</text><text x="341.84" y="1073.60" font-size="27.04" font-weight="bold" fill="#FFFFFF" textLength="166.07" lengthAdjust="spacingAndGlyphs" >Venture Studio</text><text x="393.21" y="1099.45" font-size="19.19" font-weight="normal" fill="#FFFFFF" stroke="#FFFFFF" stroke-width="0.5" stroke-linejoin="miter" textLength="61.58" lengthAdjust="spacingAndGlyphs" >53.9%</text><text x="596.17" y="1252.30" font-size="36.77" font-weight="bold" fill="#FFFFFF" textLength="100.41" lengthAdjust="spacingAndGlyphs" >$44M</text><text x="602.89" y="1280.70" font-size="24.71" font-weight="bold" fill="#FFFFFF" textLength="85.60" lengthAdjust="spacingAndGlyphs" >Fintech</text><text x="615.70" y="1306.75" font-size="18.90" font-weight="normal" fill="#FFFFFF" stroke="#FFFFFF" stroke-width="0.5" stroke-linejoin="miter" textLength="58.77" lengthAdjust="spacingAndGlyphs" >18.9%</text><text x="472.48" y="1466.70" font-size="35.32" font-weight="bold" fill="#FFFFFF" textLength="99.17" lengthAdjust="spacingAndGlyphs" >$40M</text><text x="461.34" y="1495.00" font-size="25.15" font-weight="bold" fill="#FFFFFF" textLength="121.69" lengthAdjust="spacingAndGlyphs" >TravelTech</text><text x="493.37" y="1522.35" font-size="19.33" font-weight="normal" fill="#FFFFFF" stroke="#FFFFFF" stroke-width="0.5" stroke-linejoin="miter" textLength="55.28" lengthAdjust="spacingAndGlyphs" >17.2%</text><text x="347.31" y="1318.70" font-size="51.31" font-weight="bold" fill="#FFFFFF" textLength="159.89" lengthAdjust="spacingAndGlyphs" >$228M</text><text x="347.06" y="1348.50" font-size="24.50" font-weight="normal" fill="#FFFFFF" textLength="158.55" lengthAdjust="spacingAndGlyphs" ><tspan font-weight="normal">across </tspan><tspan font-weight="bold">26 deals</tspan></text><text x="1066.49" y="1050.00" font-size="35.32" font-weight="bold" fill="#FFFFFF" textLength="96.08" lengthAdjust="spacingAndGlyphs" >$75M</text><text x="1060.05" y="1077.00" font-size="25.73" font-weight="bold" fill="#FFFFFF" textLength="106.58" lengthAdjust="spacingAndGlyphs" >PropTech</text><text x="1091.48" y="1103.35" font-size="20.64" font-weight="normal" fill="#FFFFFF" stroke="#FFFFFF" stroke-width="0.5" stroke-linejoin="miter" textLength="43.03" lengthAdjust="spacingAndGlyphs" >26%</text><text x="1304.15" y="1165.00" font-size="31.98" font-weight="bold" fill="#FFFFFF" textLength="86.16" lengthAdjust="spacingAndGlyphs" >$32M</text><text x="1292.83" y="1189.70" font-size="22.82" font-weight="bold" fill="#FFFFFF" textLength="107.43" lengthAdjust="spacingAndGlyphs" >Mediatech</text><text x="1324.03" y="1213.75" font-size="18.60" font-weight="normal" fill="#FFFFFF" stroke="#FFFFFF" stroke-width="0.5" stroke-linejoin="miter" textLength="44.02" lengthAdjust="spacingAndGlyphs" >11.1%</text><text x="1322.14" y="1299.00" font-size="32.56" font-weight="bold" fill="#FFFFFF" textLength="88.22" lengthAdjust="spacingAndGlyphs" >$28M</text><text x="1323.03" y="1325.00" font-size="23.98" font-weight="bold" fill="#FFFFFF" textLength="85.30" lengthAdjust="spacingAndGlyphs" >Contech</text><text x="1343.68" y="1347.75" font-size="17.88" font-weight="normal" fill="#FFFFFF" stroke="#FFFFFF" stroke-width="0.5" stroke-linejoin="miter" textLength="42.72" lengthAdjust="spacingAndGlyphs" >9.7%</text><text x="1280.34" y="1419.00" font-size="31.25" font-weight="bold" fill="#FFFFFF" textLength="86.78" lengthAdjust="spacingAndGlyphs" >$25M</text><text x="1314.29" y="1443.80" font-size="22.67" font-weight="bold" fill="#FFFFFF" textLength="20.37" lengthAdjust="spacingAndGlyphs" >AI</text><text x="1302.84" y="1468.15" font-size="19.04" font-weight="normal" fill="#FFFFFF" stroke="#FFFFFF" stroke-width="0.5" stroke-linejoin="miter" textLength="41.87" lengthAdjust="spacingAndGlyphs" >8.7%</text><text x="1184.15" y="1477.40" font-size="29.65" font-weight="bold" fill="#FFFFFF" textLength="89.45" lengthAdjust="spacingAndGlyphs" >$21.8M</text><text x="1176.37" y="1498.00" font-size="18.02" font-weight="bold" fill="#FFFFFF" textLength="103.80" lengthAdjust="spacingAndGlyphs" >E-Commerce</text><text x="1211.90" y="1518.75" font-size="15.26" font-weight="normal" fill="#FFFFFF" stroke="#FFFFFF" stroke-width="0.5" stroke-linejoin="miter" textLength="32.37" lengthAdjust="spacingAndGlyphs" >7.5%</text><text x="869.48" y="1318.40" font-size="38.37" font-weight="bold" fill="#FFFFFF" textLength="130.33" lengthAdjust="spacingAndGlyphs" >$86.5M</text><text x="890.68" y="1346.00" font-size="23.55" font-weight="bold" fill="#FFFFFF" textLength="86.33" lengthAdjust="spacingAndGlyphs" >Fintech</text><text x="912.67" y="1371.75" font-size="18.90" font-weight="normal" fill="#FFFFFF" stroke="#FFFFFF" stroke-width="0.5" stroke-linejoin="miter" textLength="42.81" lengthAdjust="spacingAndGlyphs" >30%</text><text x="1073.21" y="1318.40" font-size="51.89" font-weight="bold" fill="#FFFFFF" textLength="159.89" lengthAdjust="spacingAndGlyphs" >$289M</text><text x="1072.96" y="1348.30" font-size="24.50" font-weight="normal" fill="#FFFFFF" textLength="158.75" lengthAdjust="spacingAndGlyphs" ><tspan font-weight="normal">across </tspan><tspan font-weight="bold">44 deals</tspan></text><line x1="372.5" y1="1516" x2="349.6" y2="1600" stroke="url(#pinA)" stroke-width="4.6"/><circle cx="373.7" cy="1513.9" r="10" fill="url(#pinA2)"/><line x1="1115.5" y1="1516" x2="1128.4" y2="1600" stroke="url(#pinM)" stroke-width="4.6"/><circle cx="1114.8" cy="1513" r="10" fill="url(#pinM2)"/><rect x="97" y="1598.7" width="660.2" height="103.8" fill="url(#boxA)"/><rect x="856" y="1598.2" width="608" height="104.2" fill="url(#boxM)"/><text x="116.49" y="1631.30" font-size="20.06" font-weight="bold" fill="#FFFFFF" textLength="564.52" lengthAdjust="spacingAndGlyphs" ><tspan font-weight="bold">Others (3.8%)</tspan><tspan font-weight="normal">: E-Commerce ($2.5M), SaaS ($1.8M), E-Services</tspan></text><text x="116.07" y="1655.00" font-size="20.06" font-weight="normal" fill="#FFFFFF" textLength="602.42" lengthAdjust="spacingAndGlyphs" >($1.5M), ConstructionTech ($1M), AdTech ($1M), Proptech ($600K),</text><text x="115.67" y="1678.70" font-size="20.06" font-weight="normal" fill="#FFFFFF" textLength="611.16" lengthAdjust="spacingAndGlyphs" >Healthtech ($225K), AI ($200K), Mediatech ($100K), EdTech ($100K)</text><text x="886.89" y="1631.50" font-size="20.06" font-weight="bold" fill="#FFFFFF" textLength="495.88" lengthAdjust="spacingAndGlyphs" ><tspan font-weight="bold">Others (7%)</tspan><tspan font-weight="normal">: HealthTech ($13.7M), SpaceTech ($2.7M),</tspan></text><text x="886.09" y="1655.20" font-size="20.06" font-weight="normal" fill="#FFFFFF" textLength="518.59" lengthAdjust="spacingAndGlyphs" >Edtech ($1.7M), Logistics ($1M), SaaS ($986K), CleanTech</text><text x="886.48" y="1678.40" font-size="20.06" font-weight="normal" fill="#FFFFFF" textLength="390.25" lengthAdjust="spacingAndGlyphs" >($220K), Web3 ($100K), E-Services ($100K)</text><text x="88.37" y="1797.00" font-size="28.34" font-weight="normal" fill="#231F20" textLength="178.63" lengthAdjust="spacingAndGlyphs" >Source: Wamda</text></svg></body></html>
